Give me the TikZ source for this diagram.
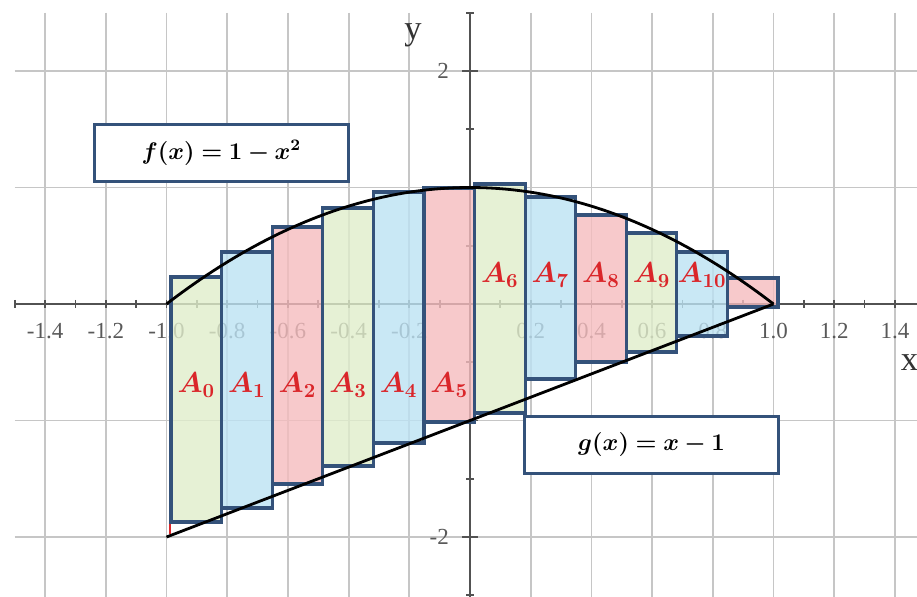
\documentclass[tikz,border=0pt]{standalone}
\usepackage{fontspec}
\setmainfont{Liberation Serif}
\usepackage{amsmath, bm}

\definecolor{areagreen}{RGB}{224,237,203}
\definecolor{areablue}{RGB}{188,226,243}
\definecolor{areapink}{RGB}{245,188,190}
\definecolor{edgeblue}{RGB}{52,82,122}
\definecolor{labelred}{RGB}{218,38,42}

\begin{document}
\begin{tikzpicture}[
  x=5.3334cm, y=2.0473cm,
  % Estilos de la cuadricula y ejes
  gridline/.style={draw=gray!45, line width=0.9pt},
  axis/.style={draw=black!68, line width=0.9pt},
  ticklabel/.style={text=black!65, font=\fontsize{11.5}{13}\selectfont, inner sep=1pt},
  % Estilos de las franjas
  strip/.style={fill opacity=0.8},
  edge/.style={draw=edgeblue, line width=1.6pt},
  curve/.style={draw=black, line width=1.4pt},
  arealabel/.style={text=labelred, font=\fontsize{14}{16}\selectfont, inner sep=1pt},
  formula/.style={draw=edgeblue, line width=1.5pt, fill=white, minimum width=127pt, minimum height=28.5pt, font=\large}
]
  \useasboundingbox (-1.5486,-2.5064) rectangle (1.4728,2.6094);

  % ==========================================
  % GRID AND AXES
  % ==========================================
  \foreach \gx in {-1.4,-1.2,...,1.45}
    \draw[gridline] (\gx,2.5) -- (\gx,-2.6);
  \foreach \gy in {-2,...,2}
    \draw[gridline] (-1.5,\gy) -- (1.6,\gy);

  \draw[axis] (-1.5,0) -- (1.6,0);
  \draw[axis] (0,2.5) -- (0,-2.6);
  \foreach \tx in {-15,...,15}
    \draw[axis] (\tx/10,0.035) -- (\tx/10,-0.035);
  \foreach \ty in {-5,...,5}
    \draw[axis] (-0.013,\ty/2) -- (0.013,\ty/2);
  \foreach \ty in {-2,...,2}
    \draw[axis] (-0.026,\ty) -- (0.026,\ty);

  \foreach \v [count=\k] in {-1.4,-1.2,-1.0,-0.8,-0.6,-0.4,-0.2,0.2,0.4,0.6,0.8,1.0,1.2,1.4}
    \node[ticklabel] (xtick\k) at (\v,-0.232) {\v};
  \foreach \v [count=\k] in {2,-2}
    \node[ticklabel, anchor=east] (ytick\k) at (-0.062,\v) {\v};

  \node[font=\LARGE, text=black!80] (ylab) at (-0.188,2.309) {y};
  \node[font=\LARGE, text=black!80] (xlab) at (1.448,-0.505) {x};

  % ==========================================
  % STRIPS A_0 ... A_11
  % ==========================================
  \foreach \i/\t/\b/\c in {0/0.232/-1.871/areagreen, 1/0.446/-1.751/areablue,
      2/0.661/-1.545/areapink, 3/0.824/-1.391/areagreen, 4/0.961/-1.193/areablue,
      5/0.996/-1.013/areapink, 6/1.030/-0.936/areagreen, 7/0.918/-0.644/areablue,
      8/0.764/-0.498/areapink, 9/0.609/-0.412/areagreen, 10/0.446/-0.275/areablue,
      11/0.223/-0.026/areapink}
    \fill[strip, \c] ({-0.985+\i/6},\b) rectangle ({-0.985+(\i+1)/6},\t);

  \foreach \i/\t/\b in {0/0.232/-1.871, 1/0.446/-1.751, 2/0.661/-1.545,
      3/0.824/-1.391, 4/0.961/-1.193, 5/0.996/-1.013, 6/1.030/-0.936,
      7/0.918/-0.644, 8/0.764/-0.498, 9/0.609/-0.412, 10/0.446/-0.275,
      11/0.223/-0.026}
    \draw[edge] ({-0.985+\i/6},\b) rectangle ({-0.985+(\i+1)/6},\t);

  % Curvas f y g
  \draw[curve, domain=-1:1, samples=80] plot (\x,{1-\x*\x});
  \draw[curve] (-1,-2) -- (1,0);
  \draw[labelred, line width=1.2pt] (-0.988,-1.97) -- (-0.988,-1.89);

  % Etiquetas de las areas
  \foreach \i/\ly in {0/-0.695, 1/-0.695, 2/-0.695, 3/-0.695, 4/-0.695, 5/-0.695,
      6/0.249, 7/0.249, 8/0.249, 9/0.249, 10/0.249}
    \node[arealabel] (a\i) at ({-0.9017+\i/6},\ly) {$\bm{A_{\i}}$};

  % ==========================================
  % FORMULA BOXES
  % ==========================================
  \node[formula] (fbox) at (-0.819,1.296) {$\bm{f(x) = 1 - x^2}$};
  \node[formula] (gbox) at (0.598,-1.206) {$\bm{g(x) = x - 1}$};

\end{tikzpicture}
\end{document}
